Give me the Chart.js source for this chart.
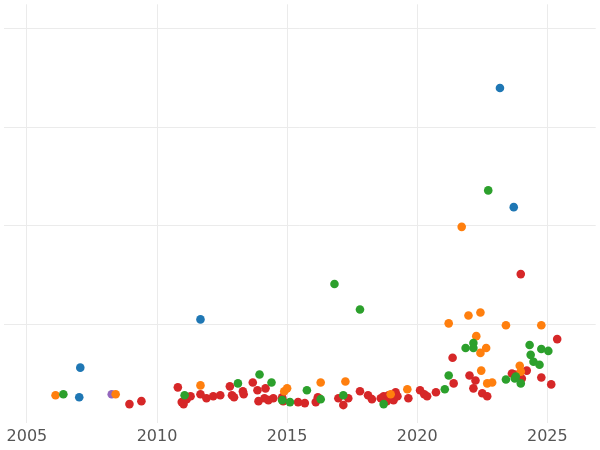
<!DOCTYPE html>
<html><head><meta charset="utf-8">
<script src="https://cdn.jsdelivr.net/npm/chart.js@4"></script>
<style>html,body{margin:0;padding:0;background:#fff}</style>
</head><body>
<canvas id="c" width="600" height="450"></canvas>
<script>
const xTicks = [2005, 2010, 2015, 2020, 2025];
const blueX = [2023.18, 2023.71, 2011.67, 2007.05, 2007.01];
const blueY = [3.40, 2.19, 1.05, 0.56, 0.26];
const greenX = [2022.73, 2016.82, 2017.8, 2006.4, 2011.06, 2013.11, 2013.94, 2014.4, 2014.81, 2015.11, 2015.76, 2016.29, 2017.16, 2018.71, 2021.06, 2021.21, 2021.86, 2022.16, 2022.16, 2023.41, 2023.79, 2023.98, 2024.32, 2024.36, 2024.47, 2024.7, 2024.77, 2025.04, 2023.75];
const greenY = [2.36, 1.41, 1.15, 0.29, 0.28, 0.40, 0.49, 0.41, 0.23, 0.21, 0.33, 0.24, 0.28, 0.19, 0.34, 0.48, 0.76, 0.81, 0.76, 0.44, 0.47, 0.40, 0.79, 0.69, 0.62, 0.59, 0.75, 0.73, 0.45];
const orangeX = [2021.71, 2006.1, 2008.41, 2011.67, 2014.89, 2015.0, 2016.29, 2017.24, 2018.98, 2019.62, 2021.21, 2021.97, 2022.27, 2022.43, 2022.43, 2022.46, 2022.65, 2022.69, 2022.88, 2023.41, 2023.94, 2024.77, 2023.98];
const orangeY = [1.99, 0.28, 0.29, 0.38, 0.32, 0.35, 0.41, 0.42, 0.29, 0.34, 1.01, 1.09, 0.88, 1.12, 0.71, 0.53, 0.76, 0.40, 0.41, 0.99, 0.58, 0.99, 0.52];
const redX = [2023.98, 2025.38, 2021.36, 2021.4, 2022.01, 2022.16, 2022.24, 2022.5, 2022.69, 2023.64, 2023.75, 2024.02, 2024.21, 2024.77, 2025.15, 2008.94, 2009.4, 2010.8, 2010.95, 2011.02, 2011.14, 2011.29, 2011.67, 2011.9, 2012.16, 2012.43, 2012.8, 2012.88, 2012.96, 2013.3, 2013.33, 2013.68, 2013.86, 2013.9, 2014.13, 2014.17, 2014.28, 2014.47, 2014.81, 2014.85, 2015.42, 2015.68, 2016.1, 2016.18, 2016.97, 2017.16, 2017.35, 2017.8, 2018.11, 2018.26, 2018.6, 2018.71, 2018.83, 2018.9, 2019.09, 2019.17, 2019.24, 2019.66, 2020.11, 2020.27, 2020.38, 2020.72];
const redY = [1.51, 0.85, 0.66, 0.40, 0.48, 0.35, 0.43, 0.30, 0.27, 0.50, 0.49, 0.45, 0.53, 0.46, 0.39, 0.19, 0.22, 0.36, 0.21, 0.19, 0.24, 0.27, 0.29, 0.25, 0.27, 0.28, 0.37, 0.28, 0.26, 0.32, 0.29, 0.41, 0.33, 0.22, 0.25, 0.35, 0.23, 0.25, 0.26, 0.22, 0.21, 0.20, 0.21, 0.26, 0.25, 0.18, 0.25, 0.32, 0.28, 0.24, 0.25, 0.27, 0.22, 0.28, 0.23, 0.31, 0.27, 0.25, 0.33, 0.29, 0.27, 0.31];
const purpleX = [2008.26];
const purpleY = [0.29];

function pts(xs, ys){ return xs.map((x,i)=>({x:x, y:ys[i]})); }
function ds(xs, ys, color){ return {data:pts(xs,ys), backgroundColor:color, borderColor:color, pointRadius:4.3, pointHoverRadius:4.3, borderWidth:0}; }

new Chart(document.getElementById('c'), {
  type:'scatter',
  data:{datasets:[
    ds(blueX, blueY, '#1f77b4'),
    ds(greenX, greenY, '#2ca02c'),
    ds(orangeX, orangeY, '#ff7f0e'),
    ds(redX, redY, '#d62728'),
    ds(purpleX, purpleY, '#9467bd')
  ]},
  options:{
    responsive:false, animation:false,
    layout:{padding:0},
    plugins:{legend:{display:false}, tooltip:{enabled:false}},
    scales:{
      x:{type:'linear', min:2004.13, max:2026.86,
        afterBuildTicks:(s)=>{ s.ticks = xTicks.map(v=>({value:v})); },
        grid:{color:'#ebebeb', lineWidth:1, drawTicks:false},
        border:{display:false},
        ticks:{color:'#555', font:{family:'DejaVu Sans', size:16}, padding:4, maxRotation:0,
          callback:(v)=>String(v)}
      },
      y:{min:0, max:4.25,
        afterBuildTicks:(s)=>{ s.ticks = [1,2,3,4].map(v=>({value:v})); },
        afterFit:(s)=>{ s.width = 0; },
        grid:{color:'#ebebeb', lineWidth:1, drawTicks:false},
        border:{display:false},
        ticks:{display:false}
      }
    }
  }
});
</script>
</body></html>
